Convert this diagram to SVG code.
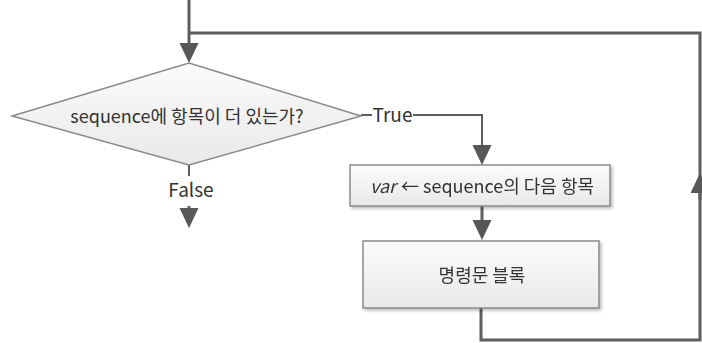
<svg xmlns="http://www.w3.org/2000/svg" width="702" height="343" viewBox="0 0 702 343">
  <defs>
    <linearGradient id="nodeFill" x1="0" y1="0" x2="0" y2="1">
      <stop offset="0" stop-color="#fbfbfb"/>
      <stop offset="1" stop-color="#e9e9e9"/>
    </linearGradient>
    <filter id="softShadow" x="-10%" y="-10%" width="130%" height="140%">
      <feGaussianBlur in="SourceAlpha" stdDeviation="1.5"/>
      <feOffset dx="2" dy="2" result="b"/>
      <feComponentTransfer><feFuncA type="linear" slope="0.25"/></feComponentTransfer>
      <feMerge><feMergeNode/><feMergeNode in="SourceGraphic"/></feMerge>
    </filter>
    <marker id="arrow" markerUnits="userSpaceOnUse" markerWidth="22" markerHeight="20" refX="2" refY="9.5" orient="auto">
      <path d="M0,0 L20,9.5 L0,19 Z" fill="#575757"/>
    </marker>
  </defs>
  <style>
    .node { fill: url(#nodeFill); stroke: #8a8a8a; stroke-width: 1.5; }
    .link { fill: none; stroke: #5e5e5e; stroke-width: 3; }
    .label { font-family: "Noto Sans CJK KR", "Noto Sans", sans-serif; font-size: 18px; fill: #333333; }
    .branch { font-size: 19px; }
  </style>

  <g id="connectors">
    <!-- entry into the decision -->
    <path class="link" d="M189,0 V45" marker-end="url(#arrow)"/>
    <!-- return loop from the statement block back to the decision -->
    <path class="link" d="M481,308 V340 H700 V33 H189"/>
    <path class="link" d="M700,200 V191" marker-end="url(#arrow)"/>
    <!-- True branch -->
    <path class="link" style="stroke-width:2" d="M361,115 H372"/>
    <path class="link" style="stroke-width:2" d="M413,115 H482 V147" marker-end="url(#arrow)"/>
    <!-- next item to statement block -->
    <path class="link" d="M482,206 V222" marker-end="url(#arrow)"/>
    <!-- False branch -->
    <path class="link" style="stroke-width:2" d="M189,165 V176"/>
    <path class="link" d="M189,206 V210" marker-end="url(#arrow)"/>
    <text class="label branch" x="392.5" y="122" text-anchor="middle">True</text>
    <text class="label branch" x="191" y="197" text-anchor="middle">False</text>
  </g>

  <g id="decision">
    <polygon class="node" points="12,116 189,63 361,116 189,165"/>
    <text class="label" x="187" y="123" text-anchor="middle">sequence에 항목이 더 있는가?</text>
  </g>

  <g id="next-item" filter="url(#softShadow)">
    <rect class="node" x="350" y="165" width="260" height="41"/>
    <text class="label" x="482" y="193" text-anchor="middle"><tspan font-style="italic">var</tspan><tspan dx="5">← sequence의 다음 항목</tspan></text>
  </g>

  <g id="statement-block" filter="url(#softShadow)">
    <rect class="node" x="363" y="241" width="236" height="67"/>
    <text class="label" x="482" y="282" text-anchor="middle">명령문 블록</text>
  </g>
</svg>
